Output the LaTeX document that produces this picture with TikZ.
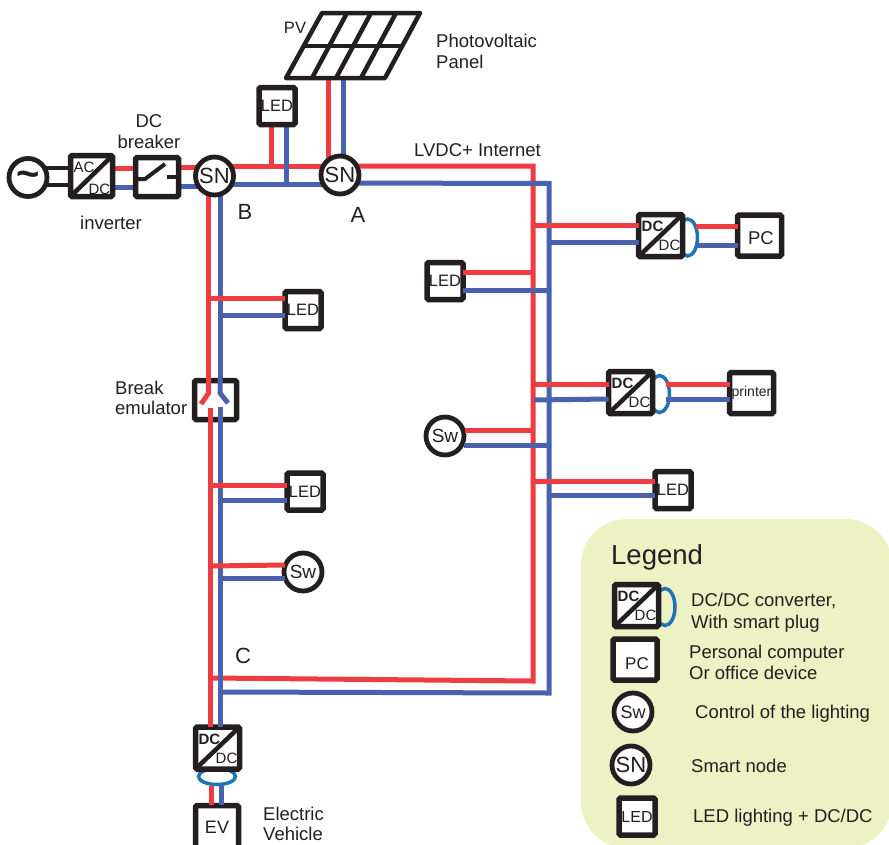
\documentclass[tikz,border=0pt]{standalone}
\usepackage{fontspec}
\setmainfont{Liberation Sans}
\usetikzlibrary{calc,shapes.geometric}
\pgfdeclarelayer{back}
\pgfsetlayers{back,main}
\definecolor{ink}{HTML}{231F20}
\definecolor{wred}{HTML}{EF3B42}
\definecolor{wblue}{HTML}{4A62AE}
\definecolor{plugblue}{HTML}{1F73B7}
\definecolor{legbg}{HTML}{EDF2C4}
\newcommand\fsz[1]{\fontsize{#1}{#1}\selectfont}
\tikzset{
  rw/.style={draw=wred,line width=5pt},
  bw/.style={draw=wblue,line width=5pt},
  bk/.style={draw=ink,line width=4.5pt},
  boxn/.style={draw=ink,fill=white,line width=5.5pt,rounded corners=1.5pt,inner sep=0,outer sep=0,text=ink},
  ledbox/.style={boxn,minimum width=36pt,minimum height=37pt,font=\fsz{16.5}},
  pcbox/.style={boxn,minimum width=44pt,minimum height=41pt},
  ddbox/.style={boxn,minimum width=44pt,minimum height=42pt},
  circn/.style={circle,draw=ink,fill=white,line width=4.8pt,inner sep=0,outer sep=0,minimum size=38pt,text=ink},
  sn/.style={circn,font=\fsz{22}},
  sw/.style={circn,font=\fsz{19}},
  plugv/.style={ellipse,draw=plugblue,line width=3.5pt,inner sep=0,minimum width=20pt,minimum height=37pt},
  plugh/.style={ellipse,draw=plugblue,line width=3.5pt,inner sep=0,minimum width=37pt,minimum height=16pt},
  lbl/.style={text=ink,inner sep=0,font=\fsz{18.5},anchor=mid west},
  clbl/.style={text=ink,inner sep=0,font=\fsz{18.5},anchor=mid},
  big/.style={text=ink,inner sep=0,font=\fsz{22},anchor=center},
  tiny/.style={text=ink,inner sep=0,font=\fsz{15},anchor=center},
  tinyb/.style={text=ink,inner sep=0,font=\fsz{15}\bfseries,anchor=center},
}
\newcommand\conv[3]{%
  \node[ddbox] (#1) at (#2,#3) {};
  \draw[bk] (#1.south west) -- (#1.north east);
  \node[tinyb] (#1u) at ($(#1.center)+(-8,-9)$) {DC};
  \node[tiny] (#1d) at ($(#1.center)+(9,10)$) {DC};
}
\begin{document}
\begin{tikzpicture}[x=1pt,y=-1pt]
\useasboundingbox (0,0) rectangle (889,844);
\clip (0,0) rectangle (889,844);
\begin{pgfonlayer}{back}
  \fill[legbg,rounded corners=46pt] (581,519) rectangle (892,848);
\end{pgfonlayer}

% ---- plugs (behind the converters)
\node[plugv] (p1) at (687.5,237.5) {};
\node[plugv] (p2) at (659.5,394) {};
\node[plugh] (p3) at (217,776.5) {};
\node[plugv] (p4) at (665,607) {};

% ---- source and inverter
\node[circn] (ac) at (28,177.5) {};
\node[text=ink,inner sep=0,font=\fsz{40}\bfseries] (tilde) at (28,179) {\textasciitilde};
\node[boxn,minimum width=42pt,minimum height=41pt] (inv) at (91.5,176) {};
\draw[bk] (inv.south west) -- (inv.north east);
\node[tiny] (inva) at (84,167) {AC};
\node[tiny] (invd) at (99.5,189) {DC};
\node[boxn,minimum width=43pt,minimum height=39pt] (brk) at (157,177) {};
\coordinate (s1) at (137,179);
\coordinate (s2) at (145,179);
\coordinate (s3) at (165,164);
\coordinate (s4) at (167,177);
\draw[draw=ink,line width=4pt] (s1) -- (s2) -- (s3);
\draw[draw=ink,line width=4pt] (s4) -- (brk.east |- s4);

% ---- smart nodes
\node[sn] (snB) at (214.5,176) {SN};
\node[sn] (snA) at (340,175) {SN};

% ---- PV panel
\coordinate (pva) at (322,13);
\coordinate (pvb) at (420,13);
\coordinate (pvc) at (385,78);
\coordinate (pvd) at (286,78);
\coordinate (pve) at (304,46);
\coordinate (pvf) at (403,46);
\draw[draw=ink,line width=4.5pt,line join=round] (pva) -- (pvb) -- (pvc) -- (pvd) -- cycle;
\draw[draw=ink,line width=4.5pt] (pve) -- (pvf);
\draw[draw=ink,line width=4.5pt] (347,13) -- (312,78);
\draw[draw=ink,line width=4.5pt] (371,13) -- (336,78);
\draw[draw=ink,line width=4.5pt] (396,13) -- (361,78);

% ---- loads
\node[ledbox] (ledT) at (277,106) {LED};
\node[ledbox] (ledL1) at (303,310) {LED};
\node[ledbox] (ledL2) at (305,491.5) {LED};
\node[ledbox] (ledR1) at (445,281) {LED};
\node[ledbox] (ledR2) at (673,490) {LED};
\node[sw] (swL) at (303,572) {Sw};
\node[sw] (swR) at (445,436) {Sw};
\conv{dd1}{660.5}{235.5}
\conv{dd2}{630.5}{392.5}
\conv{dd3}{217.5}{748}
\node[pcbox] (pc) at (759.5,235.5) {};
\node[text=ink,inner sep=0,font=\fsz{18.5}] (pct) at (761,238) {PC};
\node[pcbox,font=\fsz{14}] (prn) at (751.5,393) {printer};
\node[boxn,minimum width=43pt,minimum height=43pt,font=\fsz{18}] (ev) at (217,827) {EV};
\node[boxn,minimum width=42pt,minimum height=39pt] (emu) at (215.5,400) {};

% ---- wires running under the smart nodes
\begin{pgfonlayer}{back}
  \coordinate (rtop) at (533,166);
  \coordinate (btop) at (549,183.5);
  \coordinate (rbot) at (533,681);
  \coordinate (bbot) at (549,693);
  \coordinate (rc) at (210.5,678);
  \coordinate (bc) at (220,692);
  \draw[bk] (ac.center |- 0,168) -- (inv.west |- 0,168);
  \draw[bk] (ac.center |- 0,185) -- (inv.west |- 0,185);
  \draw[rw] (inv.east |- 0,168) -- (brk.west |- 0,168);
  \draw[bw] (inv.east |- 0,187) -- (brk.west |- 0,187);
  \draw[rw] (brk.east |- 0,167) -- (snB.center |- 0,167);
  \draw[bw] (brk.east |- 0,186) -- (snB.center |- 0,186);
  \draw[rw] (snB.center |- 0,166) -- (snA.center |- 0,166);
  \draw[bw] (snB.center |- 0,184) -- (snA.center |- 0,184);
  \draw[rw,line join=miter] (snA.center |- 0,166) -- (rtop) -- (rbot) -- (rc);
  \draw[bw,line join=miter] (snA.center |- 0,183) -- (btop) -- (bbot) -- (bc);
  \draw[rw] (328.5,78) -- (328.5,175);
  \draw[bw] (343.5,78) -- (343.5,175);
  \draw[rw] (271,127) -- (271,166);
  \draw[bw] (286,127) -- (286,184);
  \draw[rw] (208.7,178) -- (208.7,393);
  \draw[bw] (220,178) -- (220,393);
\end{pgfonlayer}

% ---- wires over the emulator and to the loads
\coordinate (rl) at (210.5,408);
\coordinate (bl) at (220,407);
\draw[rw] (208.7,378) -- (208.7,393) -- (201,404);
\draw[bw] (220,378) -- (220,393) -- (228,403);
\draw[rw] (rl) -- (rl |- dd3.north);
\draw[bw] (bl) -- (bl |- dd3.north);

\coordinate (ja1) at (209,298);
\coordinate (jb1) at (220,315);
\draw[rw] (ja1) -- (ledL1.west |- ja1);
\draw[bw] (jb1) -- (ledL1.west |- jb1);
\coordinate (ja2) at (210,485);
\coordinate (jb2) at (220,500);
\draw[rw] (ja2) -- (ledL2.west |- ja2);
\draw[bw] (jb2) -- (ledL2.west |- jb2);
\coordinate (ja3) at (210,566);
\coordinate (jb3) at (220,578);
\draw[rw] (ja3) -- (285,565);
\draw[bw] (jb3) -- (285,578);

\coordinate (jr1) at (533,272);
\coordinate (jb4) at (549,290);
\draw[rw] (jr1) -- (ledR1.east |- jr1);
\draw[bw] (jb4) -- (ledR1.east |- jb4);
\coordinate (jr2) at (533,430);
\coordinate (jb5) at (549,445);
\draw[rw] (jr2) -- (465,430);
\draw[bw] (jb5) -- (464,445);

\coordinate (jr3) at (533,225);
\coordinate (jb6) at (549,242);
\draw[rw] (jr3) -- (dd1.west |- jr3);
\draw[bw] (jb6) -- (dd1.west |- jb6);
\coordinate (jr4) at (533,384);
\coordinate (jb7) at (534,400);
\draw[rw] (jr4) -- (dd2.west |- jr4);
\draw[bw] (jb7) -- (dd2.west |- 0,399);
\coordinate (jr5) at (533,481);
\coordinate (jb8) at (549,495);
\draw[rw] (jr5) -- (ledR2.west |- jr5);
\draw[bw] (jb8) -- (ledR2.west |- jb8);

\draw[rw] (696,226) -- (pc.west |- 0,226);
\draw[bw] (696,245) -- (pc.west |- 0,245);
\draw[rw] (666,384) -- (prn.west |- 0,384);
\draw[bw] (666,399) -- (prn.west |- 0,399);
\draw[rw] (211,786) -- (211,805);
\draw[bw] (221,786) -- (221,805);

% ---- labels
\node[text=ink,inner sep=0,font=\fsz{16.5},anchor=mid] (t1) at (295,31) {PV};
\node[lbl] (t2) at (436,45) {Photovoltaic};
\node[lbl] (t3) at (436,66) {Panel};
\node[clbl] (t4) at (149,125) {DC};
\node[clbl] (t5) at (149,146) {breaker};
\node[clbl] (t6) at (111,227) {inverter};
\node[big] (t7) at (245,212) {B};
\node[big] (t8) at (358,215) {A};
\node[big] (t9) at (243,656) {C};
\node[lbl] (t10) at (414,154) {LVDC+ Internet};
\node[lbl] (t11) at (115,392) {Break};
\node[lbl] (t12) at (115,412) {emulator};
\node[lbl] (t13) at (263,818) {Electric};
\node[lbl] (t14) at (263,838) {Vehicle};

% ---- legend
\node[text=ink,inner sep=0,font=\fsz{27.5},anchor=mid west] (lg) at (611,562) {Legend};
\conv{ldd}{636.5}{605.5}
\node[pcbox] (lpc) at (635,659.5) {};
\node[text=ink,inner sep=0,font=\fsz{17}] (lpct) at (637,664) {PC};
\node[sw,font=\fsz{18}] (lsw) at (633,712) {Sw};
\node[sn] (lsn) at (631,765) {SN};
\node[ledbox,font=\fsz{16}] (lled) at (637,816.5) {LED};
\node[lbl] (l1) at (691,604) {DC/DC converter,};
\node[lbl] (l2) at (691,626) {With smart plug};
\node[lbl] (l3) at (689,656) {Personal computer};
\node[lbl] (l4) at (689,677) {Or office device};
\node[lbl] (l5) at (695,716) {Control of the lighting};
\node[lbl] (l6) at (691,770) {Smart node};
\node[lbl] (l7) at (693,820) {LED lighting + DC/DC};
\end{tikzpicture}
\end{document}
